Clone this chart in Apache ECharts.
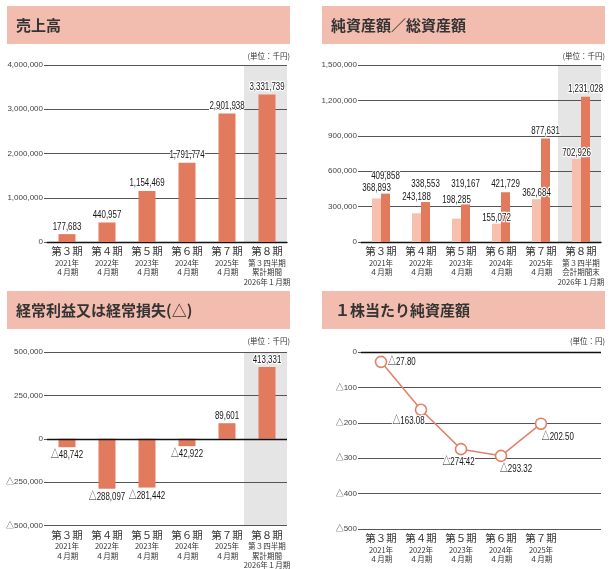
<!DOCTYPE html>
<html>
<head>
    <meta charset="UTF-8">
    <title></title>
    <script src="https://cdn.jsdelivr.net/npm/echarts@6/dist/echarts.min.js"></script>
    <style>
        html, body { margin: 0; padding: 0; background: #fff; }
    </style>
</head>
<body>
<div id="main" style="width: 615px;height:569px;"></div>
<script type="text/javascript">
    // data
    var periods = ['第３期', '第４期', '第５期', '第６期', '第７期', '第８期'];
    var fiscal = ['2021年\n４月期', '2022年\n４月期', '2023年\n４月期', '2024年\n４月期', '2025年\n４月期'];
    var latestSales = '第３四半期\n累計期間\n2026年１月期';
    var latestAssets = '第３四半期\n会計期間末\n2026年１月期';

    var sales = [177683, 440957, 1154469, 1791774, 2901938, 3331739];
    var netAssets = [368893, 243188, 198285, 155072, 362684, 702926];
    var totalAssets = [409858, 338553, 319167, 421729, 877631, 1231028];
    var ordinaryIncome = [-48742, -288097, -281442, -42922, 89601, 413331];
    var bps = [-27.80, -163.08, -274.42, -293.32, -202.50];

    var titles = ['売上高', '純資産額／総資産額', '経常利益又は経常損失(△)', '１株当たり純資産額'];
    var units = ['(単位：千円)', '(単位：千円)', '(単位：千円)', '(単位：円)'];

    var JP = '"Noto Sans CJK JP", sans-serif';
    var NUM = '"Liberation Sans", "Noto Sans CJK JP", sans-serif';
    var DARK = '#e27b5e';
    var LIGHT = '#f6bfae';
    var BAND = '#e5e5e5';

    function makeCats(last) {
        return periods.map(function (p, i) {
            return p + '\n' + (i < fiscal.length ? fiscal[i] : last);
        });
    }
    var salesCats = makeCats(latestSales);
    var assetCats = makeCats(latestAssets);
    var bpsCats = makeCats(latestSales).slice(0, bps.length).concat(['']);

    function num(v) {
        return v < 0 ? '△' + Math.abs(v).toLocaleString('en-US') : v.toLocaleString('en-US');
    }
    function yen(v) {
        return '△' + Math.abs(v).toFixed(2);
    }
    function catLabel(v) {
        return v.split('\n').map(function (s, i) {
            return i ? '{b|' + s + '}' : '{a|' + s + '}';
        }).join('\n');
    }
    var bandData = salesCats.map(function (c, i) { return i === salesCats.length - 1 ? 1 : null; });

    var grids = [
        {left: 47, width: 240, top: 65, height: 177},
        {left: 361, width: 240, top: 65, height: 177},
        {left: 47, width: 240, top: 352, height: 177},
        {left: 361, width: 240, top: 352, height: 177}
    ];

    function mainX(g, cats, line) {
        return {
            type: 'category', gridIndex: g, data: cats, z: 1,
            axisLine: {show: line, lineStyle: {color: '#111', width: 1.3}},
            axisTick: {show: false},
            axisLabel: {
                interval: 0, margin: 3, color: '#333', fontFamily: JP,
                formatter: catLabel,
                rich: {
                    a: {fontSize: 10.5, lineHeight: 13, color: '#333', fontFamily: JP},
                    b: {fontSize: 7.5, lineHeight: 9.5, color: '#333', fontFamily: JP}
                }
            }
        };
    }
    function bandX(g, cats) {
        return {type: 'category', gridIndex: g, data: cats, show: false};
    }
    function valueY(g, min, max, interval, fmt) {
        return {
            type: 'value', gridIndex: g, min: min, max: max, interval: interval, z: 1,
            axisLine: {show: false},
            axisTick: {show: true, length: 3, lineStyle: {color: '#555'}},
            splitLine: {lineStyle: {color: '#555', width: 1}},
            axisLabel: {color: '#444', fontSize: 8, margin: 4, fontFamily: NUM, formatter: fmt}
        };
    }
    function bandY(g) {
        return {type: 'value', gridIndex: g, min: 0, max: 1, show: false, splitLine: {show: false}};
    }
    function bandSeries(x, y) {
        return {
            type: 'bar', xAxisIndex: x, yAxisIndex: y, data: bandData, barWidth: 46,
            silent: true, z: 0, itemStyle: {color: BAND}
        };
    }
    // narrow value labels, placed at the data point through the axes
    function labelSeries(x, y, values, place, fmt) {
        return {
            type: 'custom', xAxisIndex: x, yAxisIndex: y, z: 10, silent: true, clip: false,
            data: values.map(function (v, i) { return [i, v]; }),
            renderItem: function (params, api) {
                var v = api.value(1);
                var p = api.coord([api.value(0), v]);
                var pl = place(params.dataIndex, v);
                return {
                    type: 'text', x: p[0] + pl[0], y: p[1] + pl[1], scaleX: 0.72,
                    style: {
                        text: fmt(v), font: '11px ' + NUM, fill: '#161616',
                        align: pl[2] || 'center', verticalAlign: 'middle',
                        stroke: '#fff', lineWidth: 2.5, strokeFirst: true
                    }
                };
            }
        };
    }
    var zeroLine = {
        silent: true, symbol: 'none', label: {show: false},
        lineStyle: {color: '#111', width: 1.3, type: 'solid'},
        data: [{yAxis: 0}]
    };

    var graphic = [];
    var heads = [[7, 6], [322, 6], [7, 291], [322, 291]];
    var titleX = [16, 331, 16, 335];
    heads.forEach(function (h, i) {
        graphic.push({type: 'rect', shape: {x: h[0], y: h[1], width: 283, height: 38}, style: {fill: '#f2bdaf'}, silent: true});
        graphic.push({type: 'text', x: titleX[i], y: h[1] + 19, silent: true,
            style: {text: titles[i], fill: '#333', font: 'bold 15px ' + JP, verticalAlign: 'middle'}});
        graphic.push({type: 'text', x: h[0] + 283, y: h[1] + 50, silent: true,
            style: {text: units[i], fill: '#333', font: '7.5px ' + JP, align: 'right', verticalAlign: 'middle'}});
    });

    var netDy = [-11, -16, -19, -6, -6.5, -6.5];
    var totalDy = [-17.5, -18, -20, -8, -7.7, -7.7];
    var bpsPlace = [[7, 0, 'left'], [-12.5, 11.5], [-2.5, 13.3], [15, 13.3], [16.8, 13.2]];

    var myChart = echarts.init(document.getElementById('main'));
    var option = {
        animation: false,
        backgroundColor: '#fff',
        graphic: graphic,
        grid: grids,
        xAxis: [
            mainX(0, salesCats, true), bandX(0, salesCats),
            mainX(1, assetCats, true), bandX(1, assetCats),
            mainX(2, salesCats, false), bandX(2, salesCats),
            mainX(3, bpsCats, false)
        ],
        yAxis: [
            valueY(0, 0, 4000000, 1000000, num), bandY(0),
            valueY(1, 0, 1500000, 300000, num), bandY(1),
            valueY(2, -500000, 500000, 250000, num), bandY(2),
            valueY(3, -500, 0, 100, num)
        ],
        series: [
            bandSeries(1, 1),
            {
                type: 'bar', xAxisIndex: 0, yAxisIndex: 0, data: sales, barWidth: 17, z: 2,
                itemStyle: {color: DARK}
            },
            labelSeries(0, 0, sales, function () { return [0, -7.5]; }, num),
            bandSeries(3, 3),
            {
                type: 'bar', xAxisIndex: 2, yAxisIndex: 2, barWidth: 9, barGap: '0%', z: 2,
                itemStyle: {color: LIGHT}, data: netAssets
            },
            {
                type: 'bar', xAxisIndex: 2, yAxisIndex: 2, barWidth: 9, barGap: '0%', z: 3,
                itemStyle: {color: DARK}, data: totalAssets
            },
            labelSeries(2, 2, netAssets, function (i) { return [-4.5, netDy[i]]; }, num),
            labelSeries(2, 2, totalAssets, function (i) { return [4.5, totalDy[i]]; }, num),
            bandSeries(5, 5),
            {
                type: 'bar', xAxisIndex: 4, yAxisIndex: 4, barWidth: 17, z: 2,
                itemStyle: {color: DARK}, data: ordinaryIncome,
                markLine: zeroLine
            },
            labelSeries(4, 4, ordinaryIncome, function (i, v) { return [0, v < 0 ? 8 : -7]; }, num),
            {
                type: 'line', xAxisIndex: 6, yAxisIndex: 6, z: 3,
                symbol: 'circle', symbolSize: 11,
                lineStyle: {color: '#e0826a', width: 1.5},
                itemStyle: {color: '#fff', borderColor: '#e0826a', borderWidth: 1.6},
                data: bps,
                markLine: zeroLine
            },
            labelSeries(6, 6, bps, function (i) { return bpsPlace[i]; }, yen)
        ]
    };
    myChart.setOption(option);
</script>
</body>
</html>
